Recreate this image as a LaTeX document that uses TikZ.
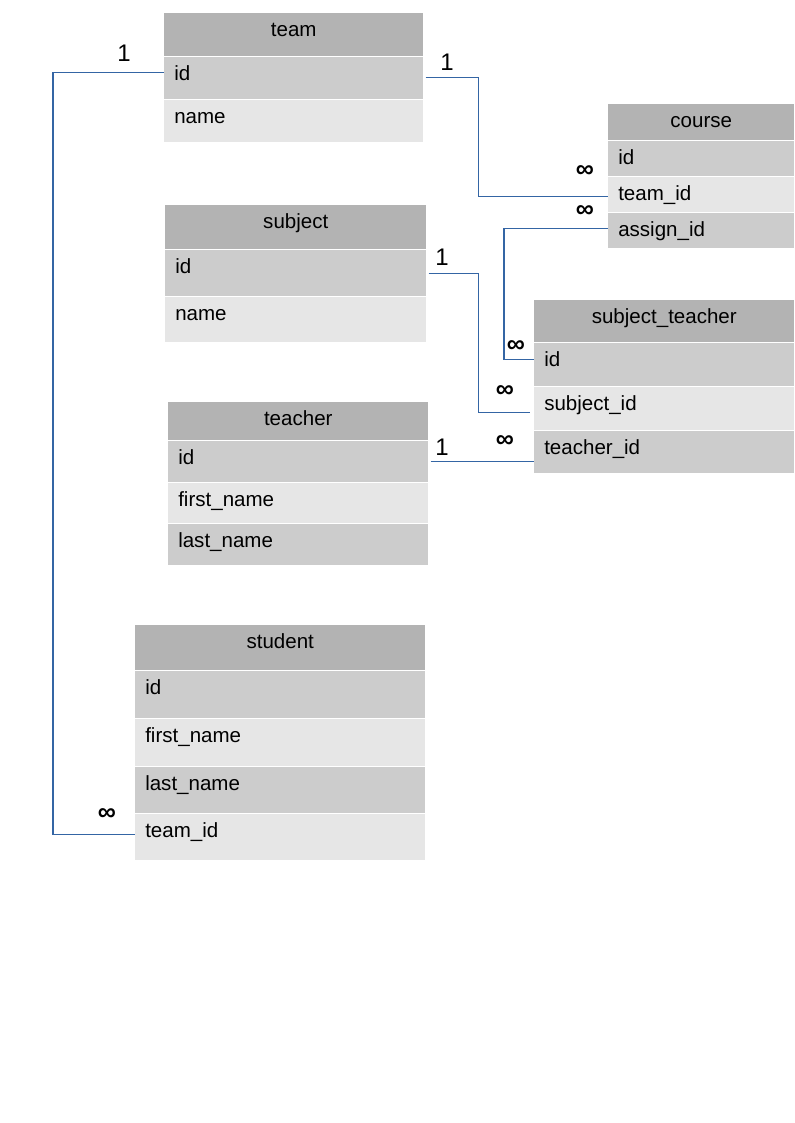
\documentclass[tikz,border=0pt]{standalone}
\usepackage{fontspec}
\setmainfont{Liberation Sans}
\definecolor{rowhead}{HTML}{B3B3B3}
\definecolor{rowdark}{HTML}{CCCCCC}
\definecolor{rowlight}{HTML}{E6E6E6}
\definecolor{linkblue}{HTML}{3465A4}
\tikzset{
  cell/.style={anchor=north west, inner xsep=7.5pt, inner ysep=0pt, text height=17.5pt, font=\fontsize{15.4}{18}\selectfont},
  head/.style={cell, fill=rowhead, align=center},
  dark/.style={cell, fill=rowdark, align=left},
  light/.style={cell, fill=rowlight, align=left},
  wd/.style={text width={#1*0.75pt-15pt}},
  ht/.style={text depth={#1*0.75pt-17.5pt}},
  link/.style={draw=linkblue, line width=0.8pt},
  card/.style={font=\fontsize{18}{20}\selectfont, inner sep=0pt},
  many/.style={font=\bfseries\fontsize{19}{20}\selectfont, inner sep=0pt}
}
\begin{document}
\begin{tikzpicture}[x=0.75pt, y=-0.75pt]
  \useasboundingbox (0,0) rectangle (794,1123);
  % team
  \node [head, wd=259, ht=43] (team) at (164,13) {team};
  \node [dark, wd=259, ht=42] (team-id) at (164,57) {id};
  \node [light, wd=259, ht=42] (team-name) at (164,100) {name};
  % course
  \node [head, wd=186, ht=36] (course) at (608,104) {course};
  \node [dark, wd=186, ht=35] (course-id) at (608,141) {id};
  \node [light, wd=186, ht=35] (course-teamid) at (608,177) {team\_id};
  \node [dark, wd=186, ht=35] (course-assign) at (608,213) {assign\_id};
  % subject
  \node [head, wd=261, ht=44] (subject) at (165,205) {subject};
  \node [dark, wd=261, ht=46] (subject-id) at (165,250) {id};
  \node [light, wd=261, ht=45] (subject-name) at (165,297) {name};
  % subject_teacher
  \node [head, wd=260, ht=42] (st) at (534,300) {subject\_teacher};
  \node [dark, wd=260, ht=43] (st-id) at (534,343) {id};
  \node [light, wd=260, ht=43] (st-subject) at (534,387) {subject\_id};
  \node [dark, wd=260, ht=42] (st-teacher) at (534,431) {teacher\_id};
  % teacher
  \node [head, wd=260, ht=38] (teacher) at (168,402) {teacher};
  \node [dark, wd=260, ht=41] (teacher-id) at (168,441) {id};
  \node [light, wd=260, ht=40] (teacher-first) at (168,483) {first\_name};
  \node [dark, wd=260, ht=41] (teacher-last) at (168,524) {last\_name};
  % student
  \node [head, wd=290, ht=45] (student) at (135,625) {student};
  \node [dark, wd=290, ht=47] (student-id) at (135,671) {id};
  \node [light, wd=290, ht=47] (student-first) at (135,719) {first\_name};
  \node [dark, wd=290, ht=46] (student-last) at (135,767) {last\_name};
  \node [light, wd=290, ht=46] (student-teamid) at (135,814) {team\_id};
  % links
  \draw [link] ([yshift=4.5pt]team-id.west) -- ++(-111,0) |- ([yshift=2.25pt]student-teamid.west);
  \draw [link] ([xshift=1.5pt, yshift=0.75pt]team-id.east) -- ++(53,0) |- ([yshift=-1pt]course-teamid.west);
  \draw [link] ([yshift=2pt]course-assign.west) -- ++(-104,0) |- ([yshift=4pt]st-id.west);
  \draw [link] ([xshift=1.5pt]subject-id.east) -- ++(50,0) |- ([xshift=-3pt, yshift=-2.5pt]st-subject.west);
  \draw [link] ([xshift=1.5pt]teacher-id.east) -- (teacher-id.east -| st-teacher.west);
  % cardinalities
  \node [card] (c-team-st) at (124,53) {1};
  \node [card] (c-team-co) at (447,62) {1};
  \node [card] (c-subject) at (442,257) {1};
  \node [card] (c-teacher) at (442,447) {1};
  \node [many] (m-course-team) at (585,172) {∞};
  \node [many] (m-course-assign) at (585,212) {∞};
  \node [many] (m-st-id) at (516,347) {∞};
  \node [many] (m-st-subject) at (505,392) {∞};
  \node [many] (m-st-teacher) at (505,442) {∞};
  \node [many] (m-student) at (107,815) {∞};
\end{tikzpicture}
\end{document}
